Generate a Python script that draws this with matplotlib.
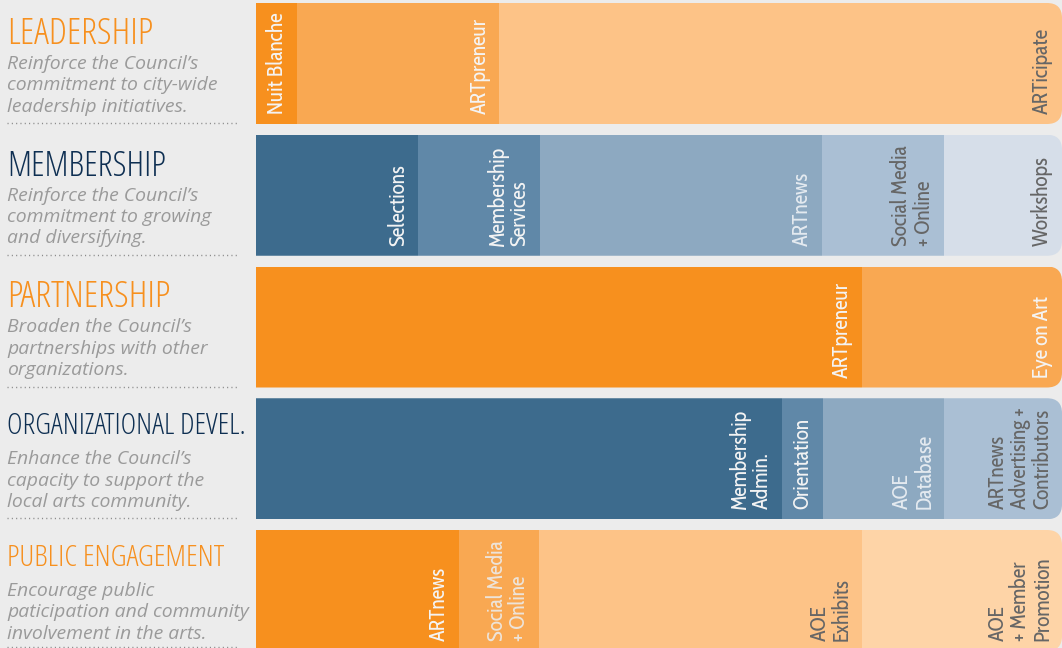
import matplotlib
matplotlib.use("Agg")
import matplotlib.pyplot as plt
from matplotlib import font_manager as fm
from matplotlib.font_manager import FontProperties
from matplotlib.patches import FancyBboxPatch
from matplotlib.lines import Line2D
import matplotlib.patheffects as pe

# ---------------- data ----------------
goals = ["LEADERSHIP", "MEMBERSHIP", "PARTNERSHIP", "ORGANIZATIONAL DEVEL.", "PUBLIC ENGAGEMENT"]
descriptions = [
    ["Reinforce the Council\u2019s", "commitment to city-wide", "leadership initiatives."],
    ["Reinforce the Council\u2019s", "commitment to growing", "and diversifying."],
    ["Broaden the Council\u2019s", "partnerships with other", "organizations."],
    ["Enhance the Council\u2019s", "capacity to support the", "local arts community."],
    ["Encourage public", "paticipation and community", "involvement in the arts."],
]

leadership_items = ["Nuit Blanche", "ARTpreneur", "ARTicipate"]
leadership_values = [5.1, 25.1, 69.8]

membership_items = ["Selections", "Membership\nServices", "ARTnews", "Social Media\n+ Online", "Workshops"]
membership_values = [20.1, 15.1, 35.0, 15.1, 14.7]

partnership_items = ["ARTpreneur", "Eye on Art"]
partnership_values = [75.2, 24.8]

orgdev_items = ["Membership\nAdmin.", "Orientation", "AOE\nDatabase", "ARTnews\nAdvertising +\nContributors"]
orgdev_values = [65.3, 5.0, 15.1, 14.6]

public_items = ["ARTnews", "Social Media\n+ Online", "AOE\nExhibits", "AOE\n+ Member\nPromotion"]
public_values = [25.2, 9.9, 40.1, 24.8]

# ---------------- styles ----------------
O1, O2, O3, O4 = "#F7901E", "#F9A852", "#FDC387", "#FED4A7"
B1, B2, B3, B4, B5 = "#3D6B8D", "#6088A8", "#8DA9C1", "#AABFD4", "#D6DEE9"
WH, LB, LO, GR = "#F4F4F4", "#E4EAF0", "#EDE4DA", "#666666"

row_items = [leadership_items, membership_items, partnership_items, orgdev_items, public_items]
row_values = [leadership_values, membership_values, partnership_values, orgdev_values, public_values]
row_colors = [
    [O1, O2, O3],
    [B1, B2, B3, B4, B5],
    [O1, O2],
    [B1, B2, B3, B4],
    [O1, O2, O3, O4],
]
row_text_colors = [
    [WH, WH, GR],
    [WH, WH, LB, GR, GR],
    [WH, WH],
    [WH, WH, LB, GR],
    [WH, LO, GR, GR],
]
title_colors = [O1, "#0E2F52", O1, "#0E2F52", O1]
title_widths = [146, 158, 163, 237, 216]      # px, target widths
title_offsets = [41, 41, 40, 36, 36]

BG = "#ECECEC"
W, H = 1062, 648
pitch = 131.75
first_center = 63.5
bar_px = 121.0
bar_h = bar_px / pitch

fig = plt.figure(figsize=(W / 100, H / 100), dpi=100, facecolor=BG)
renderer = fig.canvas.get_renderer()


def text_width(s, fp):
    t = fig.text(0, 0, s, fontproperties=fp)
    w = t.get_window_extent(renderer).width
    t.remove()
    return w


def wnum(f):
    w = f.weight
    if isinstance(w, int):
        return w
    return {"ultralight": 200, "light": 300, "normal": 400, "regular": 400, "book": 400,
            "medium": 500, "semibold": 600, "demibold": 600, "bold": 700}.get(str(w).lower(), 400)


# ---- condensed faces installed ----
cond = [f for f in fm.fontManager.ttflist
        if f.style == "normal" and "Mono" not in f.name and "CJK" not in f.fname
        and ("Condensed" in f.name or "Narrow" in f.name
             or str(f.stretch) in ("condensed", "semi-condensed", "extra-condensed"))]

sample = ["Nuit Blanche", "Selections", "Workshops", "ARTicipate", "Orientation"]
sample_target = 99 + 81 + 90 + 85 + 95


def fitted_size(path, strings, target):
    w = sum(text_width(s, FontProperties(fname=path, size=20)) for s in strings)
    return 20 * target / w


lab_path = ttl_path = None
regs = [f for f in cond if 380 <= wnum(f) <= 520]
if regs:
    lab_path = min(regs, key=lambda f: (abs(fitted_size(f.fname, sample, sample_target) - 15.5), f.fname)).fname
lights = [f for f in cond if 200 <= wnum(f) <= 350]
if lights:
    ttl_path = min(lights, key=lambda f: (abs(fitted_size(f.fname, ["LEADERSHIP"], 146) - 27), f.fname)).fname
if lab_path is None:
    lab_path = (cond[0].fname if cond else fm.findfont(FontProperties(family=["Roboto", "DejaVu Sans"])))
if ttl_path is None:
    ttl_path = lab_path

lab_size = min(16.0, fitted_size(lab_path, sample, sample_target))
lab_fp = FontProperties(fname=lab_path, size=lab_size)
lab_px = lab_size * 100 / 72
lab_ls = 20.5 / (lab_px * 0.95)

# description size: Open Sans italic fitted to reference width
desc_fp0 = FontProperties(family=["Open Sans", "DejaVu Sans"], style="italic", size=20)
desc_size = min(14.0, 20 * 192 / text_width("Reinforce the Council\u2019s", desc_fp0))
desc_fp = FontProperties(family=["Open Sans", "DejaVu Sans"], style="italic", size=desc_size)

# ---------------- bars ----------------
ax = fig.add_axes([256 / W, 0, 806 / W, 1])
ax.set_facecolor("none")
ax.set_xlim(0, 100)
ax.set_ylim((H - first_center) / pitch, -first_center / pitch)
ax.axis("off")

rx = 15 / (806 / 100)
ry = 15 / pitch

for i, (items, vals, cols, tcols) in enumerate(zip(row_items, row_values, row_colors, row_text_colors)):
    total = sum(vals)
    clip = FancyBboxPatch((-30, i - bar_h / 2), total + 30, bar_h,
                          boxstyle=f"round,pad=0,rounding_size={rx}",
                          mutation_aspect=ry / rx, transform=ax.transData)
    lefts = [sum(vals[:k]) for k in range(len(vals))]
    bars = ax.barh(i, vals, left=lefts, height=bar_h, color=cols, linewidth=0)
    for b in bars:
        b.set_clip_path(clip)
    for k, (lab, tc) in enumerate(zip(items, tcols)):
        right = lefts[k] + vals[k]
        ax.annotate(lab, xy=(right, i + bar_h / 2), xytext=(-9, 10),
                    textcoords="offset pixels", rotation=90,
                    ha="right", va="bottom", multialignment="left",
                    fontproperties=lab_fp, color=tc, linespacing=lab_ls,
                    annotation_clip=False)

# ---------------- left-hand text ----------------
for i, (g, desc) in enumerate(zip(goals, descriptions)):
    top = first_center + i * pitch - bar_px / 2
    tsize = min(30.0, fitted_size(ttl_path, [g], title_widths[i]))
    fig.text(7 / W, 1 - (top + title_offsets[i]) / H, g,
             fontproperties=FontProperties(fname=ttl_path, size=tsize),
             color=title_colors[i], va="baseline", ha="left")
    for j, line in enumerate(desc):
        fig.text(7 / W, 1 - (top + 66 + 21.3 * j) / H, line, fontproperties=desc_fp,
                 color="#9a9a9a", va="baseline", ha="left")
    yl = min(top + bar_px - 1, 646.5)
    fig.add_artist(Line2D([7 / W, 239 / W], [1 - yl / H, 1 - yl / H],
                          transform=fig.transFigure, color="#8a8a8a",
                          linewidth=1.0, linestyle=(0, (0.8, 2.3))))

fig.savefig("out.png", dpi=100, facecolor=BG)
